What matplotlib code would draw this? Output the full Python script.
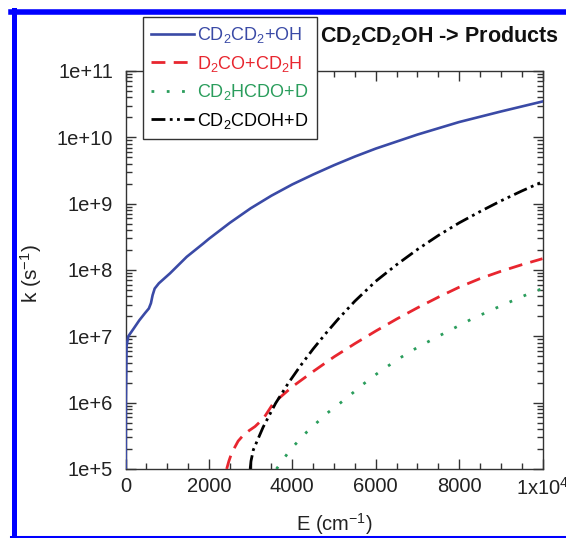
import matplotlib
matplotlib.use('Agg')
import matplotlib.pyplot as plt
from matplotlib.lines import Line2D
from matplotlib.ticker import FixedLocator, MultipleLocator, LogLocator, NullFormatter

plt.rcParams['font.family'] = ['Liberation Sans', 'DejaVu Sans']
plt.rcParams['mathtext.fontset'] = 'custom'
plt.rcParams['mathtext.rm'] = 'Liberation Sans'
plt.rcParams['mathtext.bf'] = 'Liberation Sans:bold'
plt.rcParams['mathtext.it'] = 'Liberation Sans:italic'

# CD2CD2+OH (solid blue)
blue_E = [6, 10, 25, 67, 200, 330, 468, 560, 610, 650, 700, 800, 1067, 1468, 1866,
          2000, 2500, 3000, 3500, 4000, 4500, 5000, 5500, 6000, 7000, 8000, 9000, 10000]
blue_k = [1.0e5, 1.0e6, 7.1e6, 1.0e7, 1.32e7, 1.74e7, 2.24e7, 2.63e7, 3.16e7, 4.17e7,
          5.25e7, 6.3e7, 8.9e7, 1.58e8, 2.51e8, 2.95e8, 5.13e8, 8.5e8, 1.32e9, 1.95e9,
          2.75e9, 3.8e9, 5.13e9, 6.76e9, 1.10e10, 1.70e10, 2.45e10, 3.47e10]

# D2CO+CD2H (dashed red)
red_E = [2426, 2480, 2546, 2700, 2826, 2966, 3106, 3306, 3545, 4000, 4500, 5000,
         5500, 6000, 6500, 7000, 7500, 8000, 8500, 9000, 9500, 10000]
red_k = [1.0e5, 1.32e5, 1.74e5, 2.63e5, 3.24e5, 3.8e5, 4.37e5, 5.75e5, 9.8e5, 1.74e6,
         2.95e6, 4.9e6, 7.76e6, 1.2e7, 1.82e7, 2.69e7, 3.89e7, 5.5e7, 7.41e7, 9.55e7,
         1.2e8, 1.48e8]

# CD2HCDO+D (dotted green)
green_E = [3620, 3950, 4350, 4830, 5300, 5700, 6100, 6600, 7000, 7500, 8300, 9000,
           9700, 10000]
green_k = [1.0e5, 1.95e5, 3.63e5, 6.9e5, 1.17e6, 1.9e6, 2.95e6, 4.8e6, 6.8e6, 1.0e7,
           1.82e7, 2.88e7, 4.47e7, 5.25e7]

# CD2CDOH+D (dash-dot-dot black)
black_E = [2990, 3010, 3066, 3300, 3600, 3900, 4200, 4500, 4800, 5100, 5500, 6000,
           6500, 7000, 7500, 8000, 8500, 9000, 9500, 10000]
black_k = [1.0e5, 1.32e5, 1.95e5, 4.27e5, 9.8e5, 1.95e6, 3.63e6, 6.46e6, 1.1e7,
           1.82e7, 3.39e7, 6.76e7, 1.2e8, 2.04e8, 3.31e8, 5.13e8, 7.59e8, 1.1e9,
           1.55e9, 2.14e9]

x_ticks = [0, 2000, 4000, 6000, 8000, 10000]
x_labels = ['0', '2000', '4000', '6000', '8000', r'1x10$^{4}$']
y_ticks = [1e5, 1e6, 1e7, 1e8, 1e9, 1e10, 1e11]
y_labels = ['1e+5', '1e+6', '1e+7', '1e+8', '1e+9', '1e+10', '1e+11']

labels = [r'CD$_\mathrm{2}$CD$_\mathrm{2}$+OH', r'D$_\mathrm{2}$CO+CD$_\mathrm{2}$H',
          r'CD$_\mathrm{2}$HCDO+D', r'CD$_\mathrm{2}$CDOH+D']

fig = plt.figure(figsize=(5.66, 5.38), dpi=100)
ax = fig.add_axes([125.5 / 566, 1 - 469 / 538, 417 / 566, 398 / 538])

ax.plot(blue_E, blue_k, color='#3a4aa6', lw=1.9, label=labels[0], zorder=3)
ax.plot(red_E, red_k, color='#e8262f', lw=2.0, linestyle=(0, (5, 3)),
        label=labels[1], zorder=3)
ax.plot(green_E, green_k, color='#2a9d5c', lw=2.0, linestyle=(0, (1, 4.5)),
        label=labels[2], zorder=3)
ax.plot(black_E, black_k, color='black', lw=2.0,
        linestyle=(0, (5, 1.6, 1, 1.6, 1, 1.6)), label=labels[3], zorder=3)

ax.set_yscale('log')
ax.set_xlim(0, 10000)
ax.set_ylim(1e5, 1e11)

ax.xaxis.set_major_locator(FixedLocator(x_ticks))
ax.set_xticklabels(x_labels)
ax.xaxis.set_minor_locator(MultipleLocator(500))
ax.yaxis.set_major_locator(FixedLocator(y_ticks))
ax.set_yticklabels(y_labels)
ax.yaxis.set_minor_locator(LogLocator(base=10, subs=range(2, 10), numticks=20))
ax.yaxis.set_minor_formatter(NullFormatter())

ax.tick_params(which='both', direction='in', top=True, right=True, colors='#333333',
               labelcolor='#222222', width=1)
ax.tick_params(which='major', length=7, labelsize=14.5)
ax.tick_params(which='minor', length=4)
ax.tick_params(axis='y', pad=9)
ax.tick_params(axis='x', pad=6)
for s in ax.spines.values():
    s.set_color('#333333')
    s.set_linewidth(1.0)

ax.set_xlabel(r'E (cm$^{-1}$)', fontsize=14.5, color='#222222')
ax.set_ylabel(r'k (s$^{-1}$)', fontsize=15, color='#222222')
ax.xaxis.set_label_coords(0.5, -0.105)
ax.yaxis.set_label_coords(-0.195, 0.49)

leg = fig.legend(loc='upper left', bbox_to_anchor=(143 / 566, 1 - 17 / 538),
                 bbox_transform=fig.transFigure, fontsize=13, frameon=True,
                 fancybox=False, framealpha=1, edgecolor='#333333', borderaxespad=0,
                 handlelength=2.4, handletextpad=0.15, labelspacing=0.47,
                 borderpad=0.45, labelcolor='linecolor')
leg.get_frame().set_linewidth(1.0)
leg.set_zorder(5)

fig.text(320 / 566, 1 - 42 / 538, r'CD$_\mathbf{2}$CD$_\mathbf{2}$OH -> Products',
         fontsize=15.5, fontweight='bold', ha='left', va='baseline', color='#111111')

# blue frame around the figure
fig.add_artist(Line2D([10.5 / 566, 1], [1 - 12 / 538, 1 - 12 / 538],
                      transform=fig.transFigure, color='#0000ff', lw=4))
fig.add_artist(Line2D([13.5 / 566, 13.5 / 566], [0, 1 - 9.5 / 538],
                      transform=fig.transFigure, color='#0000ff', lw=3.6))
fig.add_artist(Line2D([10.5 / 566, 1], [1.5 / 538, 1.5 / 538],
                      transform=fig.transFigure, color='#0000ff', lw=2.2))

fig.savefig('out.png', dpi=100)
